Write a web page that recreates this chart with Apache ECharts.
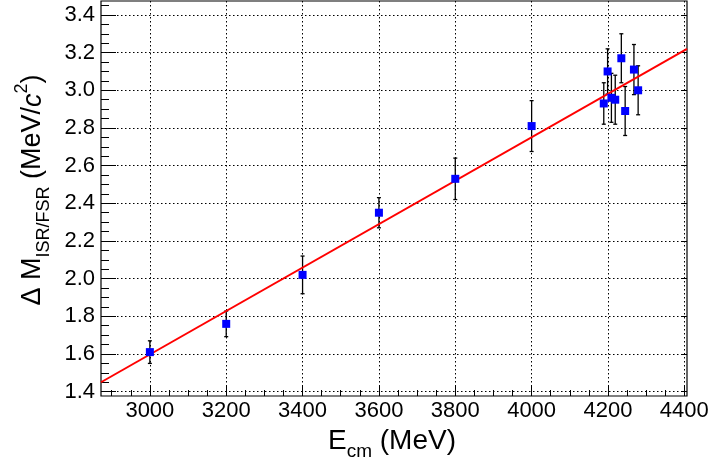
<!DOCTYPE html>
<html>
<head>
<meta charset="utf-8">
<script src="https://cdn.jsdelivr.net/npm/echarts@6/dist/echarts.min.js"></script>
<style>
html, body { margin: 0; padding: 0; background: #fff; }
#chart { width: 714px; height: 461px; }
</style>
</head>
<body>
<div id="chart"></div>
<script>
// measured points (E_cm in MeV, delta M in MeV/c^2, error)
const energies = [3000, 3200, 3400, 3600, 3800, 4000, 4189, 4199, 4209, 4219, 4235, 4245, 4268, 4279];
const deltaM = [1.61, 1.76, 2.02, 2.35, 2.53, 2.81, 2.93, 3.10, 2.96, 2.95, 3.17, 2.89, 3.11, 3.00];
const deltaErr = [0.06, 0.068, 0.10, 0.08, 0.11, 0.135, 0.11, 0.12, 0.13, 0.13, 0.13, 0.13, 0.133, 0.13];

// linear fit, read at both frame edges
const fitX = [2872, 4407];
const fitY = [1.45, 3.22];

const xTicks = [3000, 3200, 3400, 3600, 3800, 4000, 4200, 4400];
const yTicks = [1.4, 1.6, 1.8, 2.0, 2.2, 2.4, 2.6, 2.8, 3.0, 3.2, 3.4];
const xRange = [2872, 4407];
const yRange = [1.377, 3.474];

const font = "'Liberation Sans', Arial, Helvetica, sans-serif";

// minor ticks: 4 divisions between majors
function minorTicks(major, lo, hi) {
	const step = (major[1] - major[0]) / 4, out = [];
	for (let v = major[0] - 3 * step; v <= hi + 1e-9; v += step) {
		const onMajor = major.some(m => Math.abs(m - v) < step / 10);
		if (v >= lo && !onMajor) out.push(+v.toFixed(4));
	}
	return out;
}
const xMinor = minorTicks(xTicks, xRange[0], xRange[1]);
const yMinor = minorTicks(yTicks, yRange[0], yRange[1]);

const points = energies.map((e, i) => [e, deltaM[i], deltaErr[i]]);
const fitData = fitX.map((x, i) => [x, fitY[i]]);

const chart = echarts.init(document.getElementById('chart'), null, { renderer: 'canvas' });

const gridDots = { show: true, lineStyle: { color: '#000', width: 1, type: [1.5, 2.5] } };
const noLine = { show: false };

chart.setOption({
	animation: false,
	backgroundColor: '#fff',
	grid: {
		left: 101, right: 27, top: 1, bottom: 65,
		show: true, borderColor: '#000', borderWidth: 1.2,
		containLabel: false
	},
	xAxis: [{
		type: 'value', min: xRange[0], max: xRange[1], splitNumber: 8,
		position: 'bottom',
		axisLine: noLine,
		axisTick: { inside: true, length: 11, customValues: xTicks, lineStyle: { color: '#000' } },
		axisLabel: {
			customValues: xTicks, fontSize: 22, color: '#000', fontFamily: font, margin: 4,
			formatter: v => String(v)
		},
		splitLine: gridDots
	}, {
		type: 'value', min: xRange[0], max: xRange[1],
		position: 'bottom', offset: 0,
		axisLine: noLine,
		axisTick: { inside: true, length: 6, customValues: xMinor, lineStyle: { color: '#000' } },
		axisLabel: { show: false },
		splitLine: { show: false }
	}],
	yAxis: [{
		type: 'value', min: yRange[0], max: yRange[1], splitNumber: 10,
		position: 'left',
		axisLine: noLine,
		axisTick: { inside: true, length: 15, customValues: yTicks, lineStyle: { color: '#000' } },
		axisLabel: {
			customValues: yTicks, fontSize: 22, color: '#000', fontFamily: font, margin: 6,
			formatter: v => v.toFixed(1)
		},
		splitLine: gridDots
	}, {
		type: 'value', min: yRange[0], max: yRange[1],
		position: 'left', offset: 0,
		axisLine: noLine,
		axisTick: { inside: true, length: 8, customValues: yMinor, lineStyle: { color: '#000' } },
		axisLabel: { show: false },
		splitLine: { show: false }
	}, {
		type: 'value', min: yRange[0], max: yRange[1],
		position: 'right', offset: 0,
		axisLine: noLine,
		axisTick: { inside: true, length: 5, customValues: yTicks, lineStyle: { color: '#000' } },
		axisLabel: { show: false },
		splitLine: { show: false }
	}],
	series: [{
		name: 'errors',
		type: 'custom',
		xAxisIndex: 0, yAxisIndex: 0,
		z: 2,
		data: points,
		renderItem(params, api) {
			const x = api.value(0), y = api.value(1), e = api.value(2);
			const top = api.coord([x, y + e]);
			const bot = api.coord([x, y - e]);
			const cap = 2;
			const style = { stroke: '#000', lineWidth: 1.3 };
			return {
				type: 'group',
				children: [
					{ type: 'line', shape: { x1: top[0], y1: top[1], x2: bot[0], y2: bot[1] }, style },
					{ type: 'line', shape: { x1: top[0] - cap, y1: top[1], x2: top[0] + cap, y2: top[1] }, style },
					{ type: 'line', shape: { x1: bot[0] - cap, y1: bot[1], x2: bot[0] + cap, y2: bot[1] }, style }
				]
			};
		}
	}, {
		name: 'fit',
		type: 'line',
		xAxisIndex: 0, yAxisIndex: 0,
		z: 3,
		data: fitData,
		showSymbol: false,
		lineStyle: { color: '#ff0000', width: 2 }
	}, {
		name: 'data',
		type: 'scatter',
		xAxisIndex: 0, yAxisIndex: 0,
		z: 4,
		data: points.map(p => [p[0], p[1]]),
		symbol: 'rect',
		symbolSize: 8,
		itemStyle: { color: '#0000ff', opacity: 1 }
	}],
	graphic: [{
		type: 'text',
		x: 392, y: 441,
		style: {
			text: '{a|E}{s|cm}{a| (MeV)}',
			align: 'center', verticalAlign: 'middle',
			rich: {
				a: { fontSize: 28, lineHeight: 40, fontFamily: font, fill: '#000' },
				s: { fontSize: 19, lineHeight: 21, verticalAlign: 'bottom', fontFamily: font, fill: '#000' }
			}
		}
	}, {
		type: 'text',
		x: 33, y: 190,
		rotation: Math.PI / 2,
		style: {
			text: '{a|\u0394 M}{s|ISR/FSR}{a| (MeV/}{i|c}{p|2}{a|)}',
			align: 'center', verticalAlign: 'middle',
			rich: {
				a: { fontSize: 27, lineHeight: 40, fontFamily: font, fill: '#000' },
				i: { fontSize: 27, lineHeight: 40, fontStyle: 'italic', fontFamily: font, fill: '#000' },
				s: { fontSize: 18, lineHeight: 32, verticalAlign: 'bottom', fontFamily: font, fill: '#000' },
				p: { fontSize: 18, lineHeight: 20, verticalAlign: 'top', fontFamily: font, fill: '#000' }
			}
		}
	}]
});
</script>
</body>
</html>
